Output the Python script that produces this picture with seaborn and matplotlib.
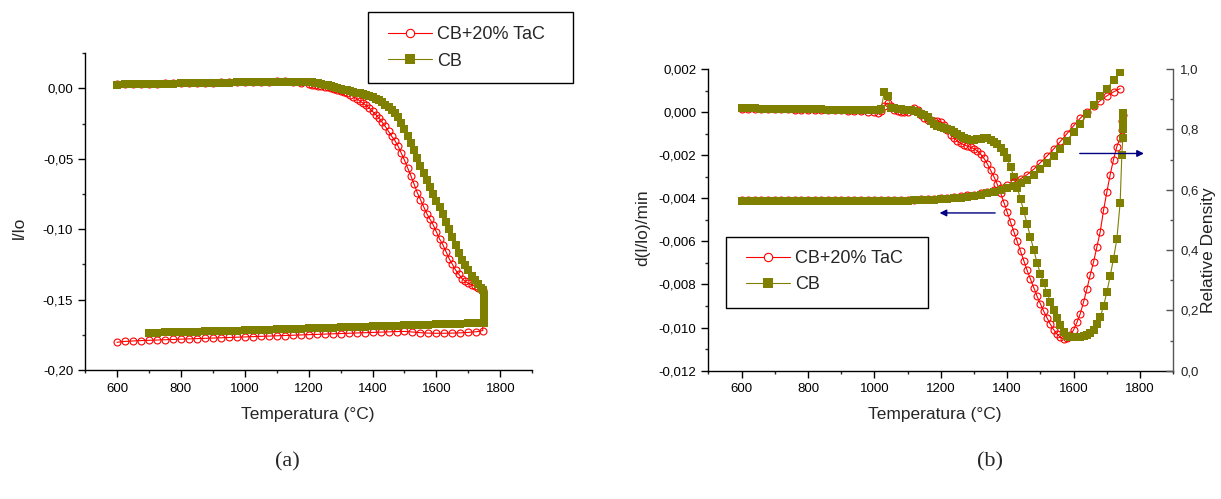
import matplotlib
matplotlib.use("Agg")
import matplotlib.pyplot as plt
from matplotlib.ticker import MultipleLocator, FuncFormatter
from matplotlib.lines import Line2D
from matplotlib.patches import Rectangle
import seaborn as sns

# ---------------- panel (a): l/lo vs temperature ----------------
a_heat_T = list(range(600, 1200, 25)) + list(range(1200, 1741, 10)) + [1745]
a_tac_heat = [
    0.0030, 0.0031, 0.0032, 0.0033, 0.0034, 0.0035, 0.0036, 0.0037, 0.0038, 0.0039,
    0.0040, 0.0041, 0.0042, 0.0043, 0.0044, 0.0045, 0.0046, 0.0047, 0.0048, 0.0049,
    0.0050, 0.0050, 0.0047, 0.0040,
    0.0030, 0.0027, 0.0024, 0.0021, 0.0017, 0.0013, 0.0008, 0.0003, -0.0003, -0.0010,
    -0.0017, -0.0025, -0.0034, -0.0045, -0.0057, -0.0072, -0.0088, -0.0104, -0.0120, -0.0140,
    -0.0163, -0.0185, -0.0210, -0.0240, -0.0270, -0.0305, -0.0340, -0.0370, -0.0410, -0.0460,
    -0.0510, -0.0565, -0.0620, -0.0680, -0.0740, -0.0790, -0.0840, -0.0890, -0.0930, -0.0970,
    -0.1020, -0.1070, -0.1110, -0.1160, -0.1210, -0.1250, -0.1290, -0.1320, -0.1350, -0.1370,
    -0.1385, -0.1395, -0.1405, -0.1415, -0.1425, -0.1430,
]
a_cb_heat = [
    0.0028, 0.0029, 0.0030, 0.0031, 0.0032, 0.0033, 0.0034, 0.0035, 0.0036, 0.0037,
    0.0038, 0.0039, 0.0040, 0.0041, 0.0042, 0.0043, 0.0044, 0.0045, 0.0046, 0.0047,
    0.0048, 0.0049, 0.0049, 0.0048,
    0.0046, 0.0043, 0.0040, 0.0036, 0.0032, 0.0027, 0.0022, 0.0016, 0.0010, 0.0004,
    -0.0002, -0.0008, -0.0014, -0.0019, -0.0024, -0.0029, -0.0034, -0.0040, -0.0046, -0.0053,
    -0.0062, -0.0072, -0.0083, -0.0095, -0.0115, -0.0135, -0.0150, -0.0175, -0.0200, -0.0245,
    -0.0290, -0.0340, -0.0390, -0.0440, -0.0495, -0.0550, -0.0600, -0.0650, -0.0700, -0.0750,
    -0.0800, -0.0845, -0.0890, -0.0945, -0.1000, -0.1055, -0.1115, -0.1170, -0.1215, -0.1255,
    -0.1290, -0.1330, -0.1360, -0.1390, -0.1415, -0.1430,
]
a_cb_jump_T = [1749, 1749, 1749, 1749, 1749, 1749]
a_cb_jump = [-0.1470, -0.1510, -0.1550, -0.1590, -0.1630, -0.1665]

a_tac_cool_T = [1745] + list(range(1725, 599, -25))
a_tac_cool = [
    -0.1720,
    -0.1728, -0.1733, -0.1736, -0.1738, -0.1739, -0.1739, -0.1738, -0.1735, -0.1730, -0.1726,
    -0.1727, -0.1729, -0.1731, -0.1733, -0.1735, -0.1737, -0.1739, -0.1741, -0.1743, -0.1745,
    -0.1747, -0.1749, -0.1751, -0.1753, -0.1755, -0.1757, -0.1759, -0.1761, -0.1763, -0.1765,
    -0.1767, -0.1769, -0.1771, -0.1773, -0.1775, -0.1777, -0.1779, -0.1781, -0.1783, -0.1785,
    -0.1787, -0.1789, -0.1791, -0.1794, -0.1797, -0.1803,
]
a_cb_cool_T = [1745] + list(range(1725, 699, -25))
a_cb_cool = [
    -0.1665,
    -0.1666, -0.1668, -0.1670, -0.1671, -0.1673, -0.1675, -0.1677, -0.1679, -0.1681, -0.1683,
    -0.1685, -0.1687, -0.1689, -0.1690, -0.1692, -0.1694, -0.1696, -0.1698, -0.1700, -0.1701,
    -0.1703, -0.1705, -0.1707, -0.1708, -0.1710, -0.1711, -0.1713, -0.1715, -0.1716, -0.1718,
    -0.1720, -0.1721, -0.1723, -0.1724, -0.1726, -0.1727, -0.1729, -0.1730, -0.1732, -0.1733,
    -0.1735, -0.1737,
]

# ---------------- panel (b): d(l/lo)/min and relative density ----------------
b_T = list(range(600, 1000, 20)) + list(range(1000, 1741, 10)) + [1745]
b_tac_rate = [
    0.00015, 0.00015, 0.00015, 0.00014, 0.00014, 0.00014, 0.00013, 0.00013, 0.00012, 0.00012,
    0.00012, 0.00011, 0.00011, 0.00010, 0.00010, 0.00009, 0.00007, 0.00005, 0.00003, 0.00001,
    0.00000, -0.00002, 0.00005, 0.00030, 0.00042, 0.00030, 0.00012, 0.00005, 0.00002, 0.00000,
    0.00000, 0.00010, 0.00020, 0.00012, -0.00015, -0.00028, -0.00035, -0.00038, -0.00040, -0.00040,
    -0.00045, -0.00060, -0.00085, -0.00105, -0.00120, -0.00135, -0.00145, -0.00152, -0.00158, -0.00163,
    -0.00170, -0.00180, -0.00195, -0.00215, -0.00240, -0.00270, -0.00300, -0.00335, -0.00375, -0.00420,
    -0.00465, -0.00510, -0.00555, -0.00600, -0.00645, -0.00690, -0.00735, -0.00775, -0.00815, -0.00855,
    -0.00890, -0.00925, -0.00955, -0.00985, -0.01010, -0.01030, -0.01045, -0.01055, -0.01050, -0.01035,
    -0.01010, -0.00975, -0.00935, -0.00880, -0.00820, -0.00755, -0.00695, -0.00625, -0.00555, -0.00455,
    -0.00370, -0.00290, -0.00220, -0.00160, -0.00120, -0.00085,
]
b_tac_end_T = [1747, 1748]
b_tac_end = [-0.00040, -0.00015]

b_cb_rate = [
    0.00017, 0.00017, 0.00017, 0.00016, 0.00016, 0.00016, 0.00015, 0.00015, 0.00014, 0.00014,
    0.00014, 0.00013, 0.00013, 0.00012, 0.00012, 0.00012, 0.00011, 0.00011, 0.00010, 0.00010,
    0.00010, 0.00011, 0.00015, 0.00092, 0.00075, 0.00020, 0.00018, 0.00016, 0.00014, 0.00012,
    0.00010, 0.00008, 0.00005, 0.00000, -0.00008, -0.00015, -0.00025, -0.00040, -0.00055, -0.00063,
    -0.00068, -0.00072, -0.00078, -0.00085, -0.00093, -0.00102, -0.00112, -0.00120, -0.00125, -0.00128,
    -0.00128, -0.00126, -0.00124, -0.00122, -0.00122, -0.00128, -0.00137, -0.00150, -0.00165, -0.00185,
    -0.00215, -0.00255, -0.00300, -0.00350, -0.00405, -0.00460, -0.00520, -0.00580, -0.00640, -0.00700,
    -0.00750, -0.00795, -0.00840, -0.00880, -0.00920, -0.00955, -0.00990, -0.01020, -0.01038, -0.01042,
    -0.01043, -0.01043, -0.01042, -0.01040, -0.01035, -0.01025, -0.01010, -0.00985, -0.00950, -0.00900,
    -0.00835, -0.00760, -0.00680, -0.00590, -0.00420, -0.00200,
]
b_cb_end_T = [1748, 1749, 1749, 1749, 1749]
b_cb_end = [-0.00120, -0.00080, -0.00050, -0.00025, -0.00005]

b_rho_T = list(range(600, 1741, 20))
b_tac_rho = [
    0.566, 0.566, 0.566, 0.566, 0.566, 0.566, 0.566, 0.566, 0.566, 0.566,
    0.566, 0.566, 0.566, 0.566, 0.566, 0.566, 0.566, 0.566, 0.566, 0.566,
    0.566, 0.566, 0.566, 0.566, 0.566, 0.567, 0.567, 0.568, 0.569, 0.570,
    0.571, 0.573, 0.575, 0.578, 0.581, 0.584, 0.588, 0.593, 0.599, 0.606,
    0.614, 0.624, 0.636, 0.650, 0.668, 0.690, 0.712, 0.735, 0.760, 0.786,
    0.812, 0.837, 0.858, 0.877, 0.895, 0.911, 0.924, 0.935,
]
b_cb_rho = [
    0.564, 0.564, 0.564, 0.564, 0.564, 0.564, 0.564, 0.564, 0.564, 0.564,
    0.564, 0.564, 0.564, 0.564, 0.564, 0.564, 0.564, 0.564, 0.564, 0.564,
    0.564, 0.564, 0.564, 0.564, 0.564, 0.564, 0.565, 0.565, 0.566, 0.567,
    0.568, 0.570, 0.572, 0.574, 0.577, 0.580, 0.584, 0.588, 0.593, 0.598,
    0.604, 0.612, 0.621, 0.632, 0.648, 0.667, 0.688, 0.710, 0.735, 0.762,
    0.790, 0.818, 0.850, 0.880, 0.912, 0.935, 0.962, 0.990,
]

labels = ["CB+20% TaC", "CB"]
RED = "#ff0000"
OLIVE = "#808000"
NAVY = "#000080"

sns.set_style("ticks")
plt.rcParams["font.family"] = ["Liberation Sans", "DejaVu Sans"]

W, H = 1221, 499
fig = plt.figure(figsize=(W / 100, H / 100), dpi=100)
fig.patch.set_facecolor("white")


def fig_box(left, top, right, bottom):
    return [left / W, 1 - bottom / H, (right - left) / W, (bottom - top) / H]


def tac_style(ms):
    return dict(color=RED, lw=0.8, marker="o", markersize=ms, markerfacecolor="none",
                markeredgecolor=RED, markeredgewidth=0.8)


def cb_style(ms):
    return dict(color=OLIVE, lw=0.8, marker="s", markersize=ms, markerfacecolor=OLIVE,
                markeredgecolor=OLIVE, markeredgewidth=0)


def draw(ax, x, y, style):
    sns.lineplot(x=x, y=y, ax=ax, sort=False, estimator=None, legend=False, **style)


def comma(fmt):
    return FuncFormatter(lambda v, p: format(v, fmt).replace(".", ","))


def style_axis(ax):
    ax.tick_params(which="major", direction="out", length=5, width=1.0, labelsize=9.5,
                   colors="black")
    ax.tick_params(which="minor", direction="out", length=2.5, width=1.0)
    ax.tick_params(axis="y", pad=3.5)
    ax.tick_params(axis="x", pad=4)
    for s in ["left", "bottom"]:
        ax.spines[s].set_linewidth(1.0)
        ax.spines[s].set_color("black")
    ax.spines["top"].set_visible(False)
    ax.spines["right"].set_visible(False)
    ax.set_xlim(500, 1900)
    ax.xaxis.set_major_locator(MultipleLocator(200))
    ax.xaxis.set_minor_locator(MultipleLocator(100))
    ax.set_xlabel("")
    ax.set_ylabel("")


def add_legend(box, handle_left, rows_mid):
    left, top, right, bottom = box
    fig.patches.append(Rectangle((left / W, 1 - bottom / H), (right - left) / W, (bottom - top) / H,
                                 transform=fig.transFigure, facecolor="white", edgecolor="black",
                                 lw=1.0, zorder=4))
    h1 = Line2D([], [], color=RED, lw=0.8, marker="o", ms=6, mfc="white", mec=RED, mew=0.8)
    h2 = Line2D([], [], color=OLIVE, lw=0.8, marker="s", ms=6.5, mfc=OLIVE, mec=OLIVE, mew=0)
    fig.legend([h1, h2], labels, loc="center left", bbox_to_anchor=(handle_left / W, 1 - rows_mid / H),
               frameon=False, fontsize=13, handlelength=2.45, handletextpad=0.28,
               borderpad=0, labelspacing=0.5, borderaxespad=0, numpoints=1)


# ---- (a)
ax_a = fig.add_axes(fig_box(85, 53.3, 532.3, 370))
draw(ax_a, a_heat_T + a_tac_cool_T, a_tac_heat + a_tac_cool, tac_style(5))
draw(ax_a, a_heat_T + a_cb_jump_T + a_cb_cool_T, a_cb_heat + a_cb_jump + a_cb_cool, cb_style(6))
style_axis(ax_a)
ax_a.set_ylim(-0.20, 0.025)
ax_a.yaxis.set_major_locator(MultipleLocator(0.05))
ax_a.yaxis.set_minor_locator(MultipleLocator(0.025))
ax_a.yaxis.set_major_formatter(comma(".2f"))
add_legend((367.7, 12.3, 573.3, 83.3), 388, 48)

# ---- (b)
ax_b = fig.add_axes(fig_box(708.3, 69, 1173.3, 370.7))
draw(ax_b, b_T + b_tac_end_T, b_tac_rate + b_tac_end, tac_style(5))
draw(ax_b, b_T + b_cb_end_T, b_cb_rate + b_cb_end, cb_style(5.2))
style_axis(ax_b)
ax_b.set_ylim(-0.012, 0.002)
ax_b.yaxis.set_major_locator(MultipleLocator(0.002))
ax_b.yaxis.set_minor_locator(MultipleLocator(0.001))
ax_b.yaxis.set_major_formatter(comma(".3f"))
ax_b.annotate("", xy=(1188, -0.00468), xytext=(1372, -0.00468),
              arrowprops=dict(arrowstyle="-|>", color=NAVY, lw=1.0, mutation_scale=10))

ax_r = ax_b.twinx()
draw(ax_r, b_rho_T, b_tac_rho, tac_style(5))
draw(ax_r, b_rho_T, b_cb_rho, cb_style(5.2))
ax_r.set_xlim(500, 1900)
ax_r.set_ylim(0.0, 1.0)
ax_r.yaxis.set_major_locator(MultipleLocator(0.2))
ax_r.yaxis.set_minor_locator(MultipleLocator(0.1))
ax_r.yaxis.set_major_formatter(comma(".1f"))
ax_r.tick_params(axis="y", which="major", direction="in", length=5, width=1.0,
                 color="#555555", labelcolor="#222222", labelsize=9.5, pad=5)
ax_r.tick_params(axis="y", which="minor", direction="in", length=2.5, width=1.0, color="#555555")
for s in ["top", "left", "bottom"]:
    ax_r.spines[s].set_visible(False)
ax_r.spines["right"].set_color("#555555")
ax_r.spines["right"].set_linewidth(1.0)
ax_r.set_ylabel("")
ax_r.annotate("", xy=(1820, 0.72), xytext=(1610, 0.72),
              arrowprops=dict(arrowstyle="-|>", color=NAVY, lw=1.0, mutation_scale=10))
add_legend((726, 237, 927.5, 308), 746, 271.7)

# axis labels
fig.text(308 / W, 1 - 414 / H, "Temperatura (°C)", ha="center", va="center", fontsize=12.5)
fig.text(935 / W, 1 - 414 / H, "Temperatura (°C)", ha="center", va="center", fontsize=12.5)
fig.text(19 / W, 1 - 228 / H, "l/lo", ha="center", va="center", rotation=90, fontsize=12.5)
fig.text(643 / W, 1 - 228 / H, "d(l/lo)/min", ha="center", va="center", rotation=90, fontsize=12.5)
fig.text(1208 / W, 1 - 250 / H, "Relative Density", ha="center", va="center", rotation=90,
         fontsize=12.5, color="#222222")

# panel tags
fig.text(287 / W, 1 - 462 / H, "(a)", ha="center", va="center", fontsize=16,
         family=["Liberation Serif", "DejaVu Serif"])
fig.text(990 / W, 1 - 462 / H, "(b)", ha="center", va="center", fontsize=16,
         family=["Liberation Serif", "DejaVu Serif"])

fig.savefig("out.png", dpi=100, facecolor="white")
